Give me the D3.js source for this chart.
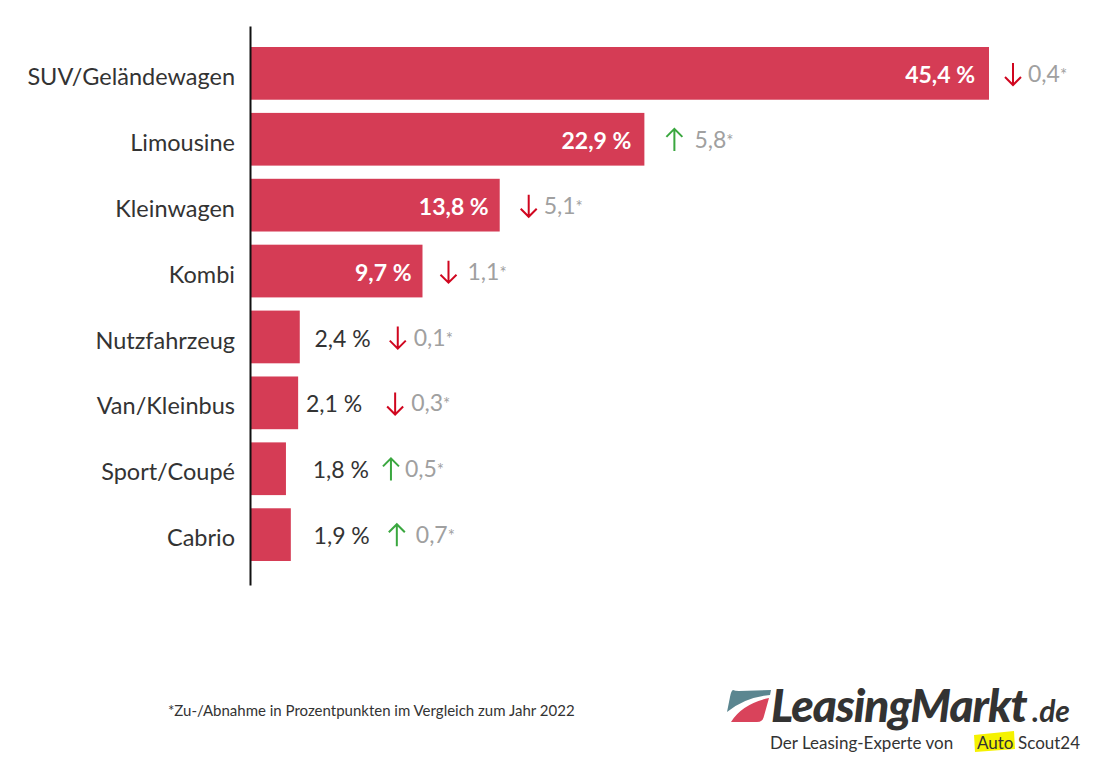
<!DOCTYPE html>
<html>
<head>
<meta charset="utf-8">
<script src="https://cdn.jsdelivr.net/npm/d3@7"></script>
<style>
    html, body { margin: 0; background: #fff; }
    text { font-family: Lato, "Open Sans", sans-serif; }
</style>
</head>
<body>
<svg id="chart" width="1100" height="772"></svg>
<script>
const categories = ["SUV/Geländewagen", "Limousine", "Kleinwagen", "Kombi", "Nutzfahrzeug", "Van/Kleinbus", "Sport/Coupé", "Cabrio"];
const shareLabels = ["45,4 %", "22,9 %", "13,8 %", "9,7 %", "2,4 %", "2,1 %", "1,8 %", "1,9 %"];
const changes = ["0,4", "5,8", "5,1", "1,1", "0,1", "0,3", "0,5", "0,7"];
const directions = ["down", "up", "down", "down", "down", "down", "up", "up"];
// the bars in the picture are not to scale with their labels, so these are the drawn lengths
const barValues = [45.4, 24.2, 15.3, 10.55, 3.0, 2.9, 2.15, 2.45];

// hand placed offsets from the end of the bar: share label end, arrow centre, change text start
const shareOffset = [-14, -13, -11, -11, 71, 64, 83, 79];
const arrowOffset = [24, 30, 29, 26, 98, 97, 105, 106];
const changeOffset = [39, 50, 44, 45, 114, 113, 119, 125];

const svg = d3.select("#chart");

const scaleX = d3.scaleLinear().domain([0, 45.4]).range([251, 989]);
const scaleY = d3.scaleBand().domain(categories).range([47, 561]).paddingInner(0.2);

const rows = svg.selectAll("g.row")
    .data(categories)
    .enter()
    .append("g")
    .attr("class", "row")
    .attr("transform", d => `translate(0, ${scaleY(d)})`);

rows.append("rect")
    .attr("x", scaleX(0))
    .attr("width", (d, i) => scaleX(barValues[i]) - scaleX(0))
    .attr("height", scaleY.bandwidth())
    .attr("fill", "#d53c55");

rows.append("text")
    .attr("x", 235)
    .attr("y", 38)
    .attr("text-anchor", "end")
    .attr("font-size", 23.5)
    .attr("fill", "#333")
    .text(d => d);

rows.append("text")
    .attr("x", (d, i) => scaleX(barValues[i]) + shareOffset[i])
    .attr("y", 36)
    .attr("text-anchor", "end")
    .attr("font-size", 23)
    .attr("font-weight", (d, i) => i < 4 ? 700 : 400)
    .attr("fill", (d, i) => i < 4 ? "#fff" : "#333")
    .text((d, i) => shareLabels[i]);

// arrows
const arrows = rows.append("g")
    .attr("transform", (d, i) => `translate(${scaleX(barValues[i]) + arrowOffset[i]}, 27)`)
    .attr("fill", "none")
    .attr("stroke-width", 2)
    .attr("stroke", (d, i) => directions[i] === "up" ? "#3aa73f" : "#d0061f");
arrows.append("path")
    .attr("d", (d, i) => directions[i] === "up"
        ? "M0,11V-11M-8,-3L0,-11L8,-3"
        : "M0,-11V11M-8,3L0,11L8,3");

const changeText = rows.append("text")
    .attr("x", (d, i) => scaleX(barValues[i]) + changeOffset[i])
    .attr("y", 35)
    .attr("font-size", 23)
    .attr("fill", "#a0a0a0")
    .text((d, i) => changes[i]);
changeText.append("tspan")
    .attr("font-size", 17)
    .attr("dy", -1)
    .text("*");

// axis line
svg.append("g")
    .attr("transform", "translate(250, 0)")
    .call(d3.axisLeft(d3.scaleLinear().range([26, 585])).ticks(0).tickSize(0))
    .select(".domain")
    .attr("stroke", "#111")
    .attr("stroke-width", 2);

// footnote
svg.append("text")
    .attr("x", 168)
    .attr("y", 716)
    .attr("font-size", 15)
    .attr("fill", "#333")
    .text("*Zu-/Abnahme in Prozentpunkten im Vergleich zum Jahr 2022");

// logo
const logo = svg.append("g");
logo.append("path")
    .attr("d", "M733,690 Q735,691 739,691 L771,690 L770,695 Q745,697 727,712 L730,697 Q731,691 733,690Z")
    .attr("fill", "#5b8690");
logo.append("path")
    .attr("d", "M769,698 L764,716 Q763,722 757,722 L731,722 Q742,704 769,698Z")
    .attr("fill", "#d9435b");
logo.append("text")
    .attr("x", 771)
    .attr("y", 722)
    .attr("font-size", 46)
    .attr("font-weight", 900)
    .attr("font-style", "italic")
    .attr("fill", "#333")
    .attr("letter-spacing", -1)
    .text("LeasingMarkt");
logo.append("text")
    .attr("x", 1032)
    .attr("y", 722)
    .attr("font-size", 30)
    .attr("font-weight", 700)
    .attr("font-style", "italic")
    .attr("fill", "#333")
    .text(".de");
logo.append("path")
    .attr("d", "M974,735 L1014,731 L1015,749 L975,752Z")
    .attr("fill", "#f5f200");
logo.append("text")
    .attr("x", 770)
    .attr("y", 749)
    .attr("font-size", 17)
    .attr("fill", "#333")
    .text("Der Leasing-Experte von");
logo.append("text")
    .attr("x", 977)
    .attr("y", 749)
    .attr("font-size", 17)
    .attr("fill", "#333")
    .text("Auto");
logo.append("text")
    .attr("x", 1018)
    .attr("y", 749)
    .attr("font-size", 17)
    .attr("fill", "#333")
    .text("Scout24");
</script>
</body>
</html>
